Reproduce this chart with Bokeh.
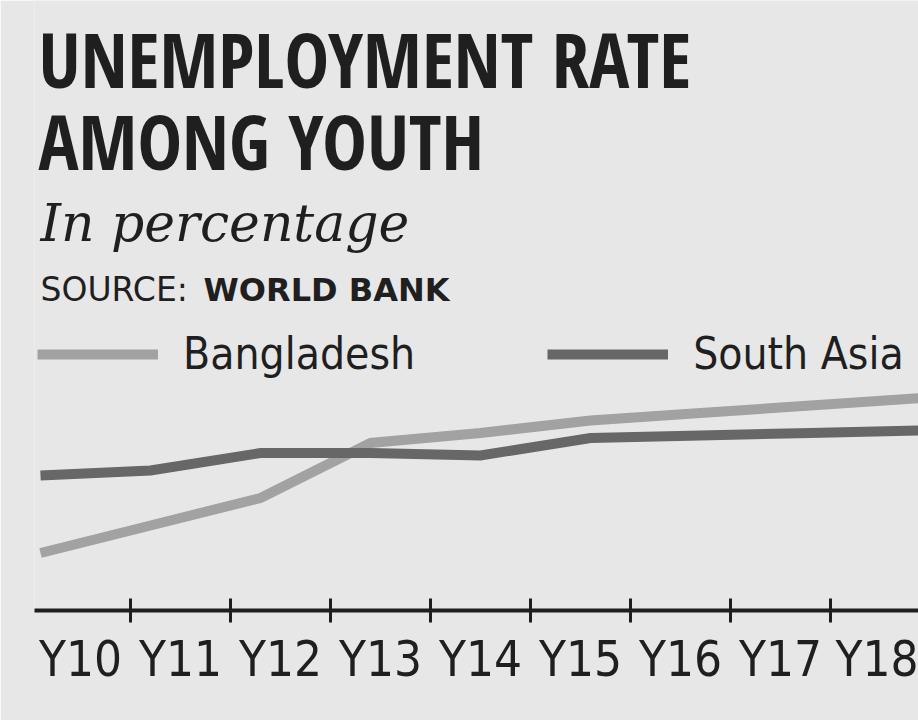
from bokeh.plotting import figure
from bokeh.models import Range1d, LinearAxis, FixedTicker, Label, Legend, LegendItem
from bokeh.embed import file_html
from bokeh.resources import INLINE

# ---- data (no y axis is shown) ----
years = ["Y10", "Y11", "Y12", "Y13", "Y14", "Y15", "Y16", "Y17", "Y18"]
bangladesh = [6.5, 7.6, 8.7, 10.9, 11.3, 11.8, 12.1, 12.4, 12.7]
south_asia = [9.6, 9.8, 10.5, 10.5, 10.4, 11.1, 11.2, 11.3, 11.4]

title_lines = ["UNEMPLOYMENT RATE", "AMONG YOUTH"]
subtitle = "In percentage"
source_label = "SOURCE:"
source_name = "WORLD BANK"
series_names = ["Bangladesh", "South Asia"]

BG = "#e7e7e7"
INK = "#1f1f1f"
C_BD = "#a2a2a2"
C_SA = "#676767"
NARROW = "DejaVu Sans Condensed"
TITLE_FONT = "Open Sans Condensed"
LEFT = 34

p = figure(width=918, height=720, output_backend="svg", toolbar_location=None,
           x_range=Range1d((LEFT - 80) / 100, 8.38), y_range=Range1d(4.2, 28.6),
           x_axis_location=None, y_axis_location=None,
           min_border_left=LEFT, min_border_right=0, min_border_top=0,
           min_border_bottom=110,
           background_fill_color=BG, border_fill_color=BG,
           outline_line_color=None)
p.grid.visible = False

# the line points sit 110 px apart in the original graphic
p.extra_x_ranges = {"pts": Range1d((LEFT - 40) / 110, 878 / 110)}
idx = list(range(len(years)))
r_bd = p.line(idx, bangladesh, x_range_name="pts", line_width=10,
              line_color=C_BD, line_join="miter")
r_sa = p.line(idx, south_asia, x_range_name="pts", line_width=10,
              line_color=C_SA, line_join="miter")

# x axis: labels at category centres, tick marks between categories
ax = LinearAxis(
    ticker=FixedTicker(ticks=idx, minor_ticks=[k + 0.5 for k in range(-1, len(years))]),
    major_label_overrides={i: y for i, y in enumerate(years)},
    major_tick_in=0, major_tick_out=0,
    minor_tick_in=12, minor_tick_out=12,
    minor_tick_line_width=3, minor_tick_line_color=INK,
    axis_line_width=4, axis_line_color=INK,
    major_label_text_font=NARROW, major_label_text_font_size="49px",
    major_label_text_color=INK, major_label_standoff=8,
)
p.add_layout(ax, "below")

legend = Legend(items=[LegendItem(label=series_names[0], renderers=[r_bd]),
                       LegendItem(label=series_names[1], renderers=[r_sa])],
                orientation="horizontal", location=(3, 231),
                glyph_width=121, glyph_height=30, label_standoff=25, spacing=132,
                label_text_font=NARROW, label_text_font_size="44px",
                label_text_color=INK, label_height=30,
                padding=0, margin=0, border_line_color=None,
                background_fill_alpha=0)
p.add_layout(legend, "center")

# texts in screen units relative to the frame (left=LEFT, bottom=610 on canvas)
def lab(text, cx, cy, font, size, style="normal"):
    p.add_layout(Label(x=cx - LEFT, y=610 - cy, x_units="screen", y_units="screen",
                       text=text, text_font=font, text_font_size=size,
                       text_font_style=style, text_color=INK,
                       text_baseline="alphabetic", text_align="left"))

lab(title_lines[0], 38, 58, TITLE_FONT, "75px", "bold")
lab(title_lines[1], 38, 140, TITLE_FONT, "75px", "bold")
lab(subtitle, 40, 222, "DejaVu Serif", "52px", "italic")
lab(source_label, 40, 289, "DejaVu Sans", "33px")
lab(source_name, 203, 289, "DejaVu Sans", "32px", "bold")

open("out.html", "w").write(file_html(p, INLINE))
